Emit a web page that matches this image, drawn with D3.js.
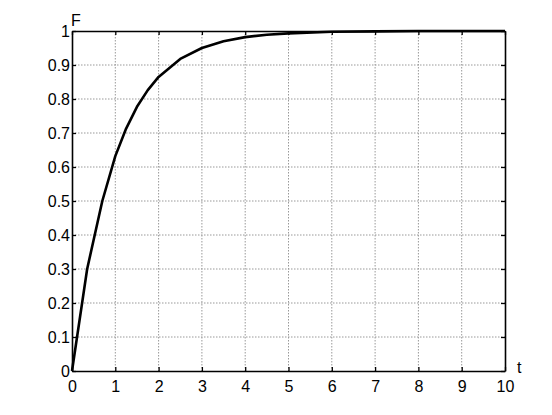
<!DOCTYPE html>
<html><head><meta charset="utf-8">
<script src="https://cdn.jsdelivr.net/npm/d3@7"></script>
<style>body{margin:0;background:#fff}svg{display:block}</style>
</head><body><svg id="c" width="552" height="415"></svg>
<script>
const tValues = [0,0.35,0.7,1,1.25,1.5,1.75,2,2.5,3,3.5,4,4.5,5,6,7,8,9,10];
const fValues = [0,0.3,0.5,0.632,0.713,0.777,0.826,0.865,0.918,0.95,0.97,0.982,0.989,0.993,0.998,0.999,1,1,1];
const xTicks = [0,1,2,3,4,5,6,7,8,9,10];
const yTicks = [0,0.1,0.2,0.3,0.4,0.5,0.6,0.7,0.8,0.9,1];
const xLabel = "t", yLabel = "F";

const svg = d3.select("#c");
const L=72, R=505, T=31, B=371;
const x = d3.scaleLinear().domain([0,10]).range([L,R]);
const y = d3.scaleLinear().domain([0,1]).range([B,T]);
const font = "'Liberation Sans', Arial, sans-serif";

// grid
const g = svg.append("g");
g.selectAll(".vx").data(xTicks.slice(1,-1)).join("line")
 .attr("x1",d=>x(d)).attr("x2",d=>x(d)).attr("y1",T).attr("y2",B)
 .attr("stroke","#999").attr("stroke-width",1).attr("stroke-dasharray","1.5,1.5");
g.selectAll(".hy").data(yTicks.slice(1,-1)).join("line")
 .attr("y1",d=>y(d)).attr("y2",d=>y(d)).attr("x1",L).attr("x2",R)
 .attr("stroke","#999").attr("stroke-width",1).attr("stroke-dasharray","1.5,1.5");

// axes
const fmt = d=>d3.format("~g")(d);
const ax = svg.append("g").attr("transform",`translate(0,${B})`)
 .call(d3.axisBottom(x).tickValues(xTicks).tickSizeInner(-4).tickSizeOuter(0).tickPadding(10).tickFormat(fmt));
const ay = svg.append("g").attr("transform",`translate(${L},0)`)
 .call(d3.axisLeft(y).tickValues(yTicks).tickSizeInner(-4).tickSizeOuter(0).tickPadding(2).tickFormat(fmt));
const axt = svg.append("g").attr("transform",`translate(0,${T})`)
 .call(d3.axisTop(x).tickValues(xTicks).tickSizeInner(-4).tickSizeOuter(0).tickFormat(""));
const ayr = svg.append("g").attr("transform",`translate(${R},0)`)
 .call(d3.axisRight(y).tickValues(yTicks).tickSizeInner(-4).tickSizeOuter(0).tickFormat(""));
[ax,ay,axt,ayr].forEach(a=>{
  a.select(".domain").attr("stroke","#000").attr("stroke-width",1.6);
  a.selectAll(".tick line").attr("stroke","#000").attr("stroke-width",1.3);
  a.selectAll("text").attr("font-family",font).attr("font-size",16).attr("fill","#000");
});

// curve
svg.append("path").datum(tValues.map((t,i)=>[t,fValues[i]]))
 .attr("fill","none").attr("stroke","#000").attr("stroke-width",2.6).attr("stroke-linejoin","round")
 .attr("d",d3.line().x(d=>x(d[0])).y(d=>y(d[1])));

svg.append("text").attr("x",71).attr("y",26).text(yLabel)
 .attr("font-family",font).attr("font-size",16);
svg.append("text").attr("x",517).attr("y",373).text(xLabel)
 .attr("font-family",font).attr("font-size",16);
</script></body></html>
